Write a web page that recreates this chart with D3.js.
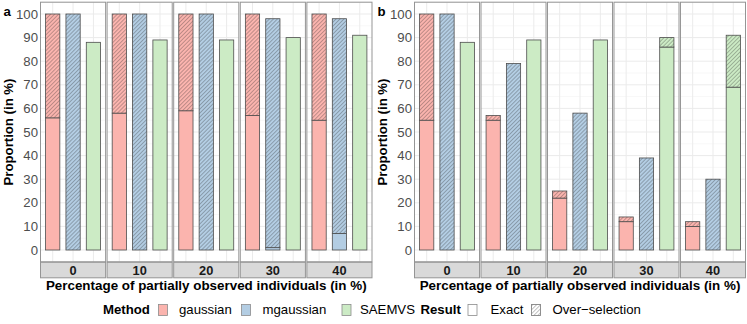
<!DOCTYPE html>
<html>
<head>
<meta charset="utf-8">
<script src="https://cdn.jsdelivr.net/npm/d3@7"></script>
<style>
  body { margin: 0; background: #fff; }
  svg { display: block; font-family: "Liberation Sans", Arial, Helvetica, sans-serif; }
</style>
</head>
<body>
<div id="viz"></div>
<script>
// facet levels (percentage of partially observed individuals)
const pcts = ["0", "10", "20", "30", "40"];
const methods = ["gaussian", "mgaussian", "SAEMVS"];
const yTicks = [0, 10, 20, 30, 40, 50, 60, 70, 80, 90, 100];

// panel a : exact / over-selection proportions
const aGaussExact = [56, 58, 59, 57, 55];
const aGaussOver  = [44, 42, 41, 43, 45];
const aMgaussExact = [0, 0, 0, 1, 7];
const aMgaussOver  = [100, 100, 100, 97, 91];
const aSaemExact = [88, 89, 89, 90, 91];
const aSaemOver  = [0, 0, 0, 0, 0];

// panel b
const bGaussExact = [55, 55, 22, 12, 10];
const bGaussOver  = [45, 2, 3, 2, 2];
const bMgaussExact = [0, 0, 0, 0, 0];
const bMgaussOver  = [100, 79, 58, 39, 30];
const bSaemExact = [88, 89, 89, 86, 69];
const bSaemOver  = [0, 0, 0, 4, 22];

const colors = {gaussian: "#FBB4AE", mgaussian: "#B3CDE3", SAEMVS: "#CCEBC5"};

const width = 747, height = 324;
const svg = d3.select("#viz").append("svg")
  .attr("width", width).attr("height", height);

// hatch pattern
const sp = 2.8;
const defs = svg.append("defs");
defs.append("pattern")
  .attr("id", "hatch")
  .attr("patternUnits", "userSpaceOnUse")
  .attr("width", sp).attr("height", sp)
  .attr("patternTransform", "rotate(45)")
  .append("line")
  .attr("x1", 0).attr("y1", 0).attr("x2", 0).attr("y2", sp)
  .style("stroke", "#222")
  .style("stroke-opacity", 0.8)
  .style("stroke-width", 0.7);

function buildRows(gE, gO, mE, mO, sE, sO) {
  const rows = [];
  pcts.forEach((p, i) => {
    rows.push({pct: p, method: "gaussian", exact: gE[i], over: gO[i]});
    rows.push({pct: p, method: "mgaussian", exact: mE[i], over: mO[i]});
    rows.push({pct: p, method: "SAEMVS", exact: sE[i], over: sO[i]});
  });
  return rows;
}

function drawPanel({x0, x1, tag, rows}) {
  const top = 2.2, bottom = 261.8;
  const y = d3.scaleLinear().domain([-5, 105]).range([bottom, top]);
  const facet = d3.scaleBand().domain(pcts).range([x0, x1]).paddingInner(0.022);
  const xm = d3.scaleBand().domain(methods).range([0, facet.bandwidth()])
    .paddingInner(0.3).paddingOuter(0.25);

  const g = svg.append("g");

  pcts.forEach(p => {
    const fx = facet(p), fw = facet.bandwidth();
    const fg = g.append("g").attr("transform", `translate(${fx},0)`);

    // grid
    d3.range(-5, 106, 10).forEach(v => {
      fg.append("line").attr("x1", 0).attr("x2", fw)
        .attr("y1", y(v)).attr("y2", y(v))
        .style("stroke", "#f2f2f2").style("stroke-width", 0.6);
    });
    yTicks.forEach(v => {
      fg.append("line").attr("x1", 0).attr("x2", fw)
        .attr("y1", y(v)).attr("y2", y(v))
        .style("stroke", "#ebebeb").style("stroke-width", 1);
    });
    methods.forEach(m => {
      const cx = xm(m) + xm.bandwidth() / 2;
      fg.append("line").attr("x1", cx).attr("x2", cx)
        .attr("y1", top).attr("y2", bottom)
        .style("stroke", "#ebebeb").style("stroke-width", 1);
    });

    // bars
    rows.filter(r => r.pct === p).forEach(r => {
      const bx = xm(r.method), bw = xm.bandwidth();
      if (r.exact > 0) {
        fg.append("rect")
          .attr("x", bx).attr("width", bw)
          .attr("y", y(r.exact)).attr("height", y(0) - y(r.exact))
          .style("fill", colors[r.method])
          .style("stroke", "#4d4d4d").style("stroke-width", 0.8);
      }
      if (r.over > 0) {
        const yt = y(r.exact + r.over), yb = y(r.exact);
        fg.append("rect")
          .attr("x", bx).attr("width", bw)
          .attr("y", yt).attr("height", yb - yt)
          .style("fill", colors[r.method]);
        fg.append("rect")
          .attr("x", bx).attr("width", bw)
          .attr("y", yt).attr("height", yb - yt)
          .style("fill", "url(#hatch)")
          .style("stroke", "#4d4d4d").style("stroke-width", 0.8);
      }
    });

    // panel border
    fg.append("rect").attr("x", 0).attr("y", top).attr("width", fw).attr("height", bottom - top)
      .style("fill", "none").style("stroke", "#959595").style("stroke-width", 1);

    // strip
    fg.append("rect").attr("x", 0).attr("y", bottom + 0.5).attr("width", fw).attr("height", 15.5)
      .style("fill", "#d9d9d9").style("stroke", "#959595").style("stroke-width", 1);
    fg.append("text").attr("x", fw / 2).attr("y", bottom + 13)
      .attr("text-anchor", "middle")
      .style("font-size", "12.8px").style("font-weight", "bold").style("fill", "#1a1a1a")
      .text(p);
  });

  // y axis labels
  yTicks.forEach(v => {
    g.append("text").attr("x", x0 - 2.5).attr("y", y(v) + 4.6)
      .attr("text-anchor", "end")
      .style("font-size", "13.2px").style("fill", "#4d4d4d")
      .text(v);
  });

  // axis titles
  g.append("text")
    .attr("transform", `translate(${x0 - 28},${(top + bottom) / 2}) rotate(-90)`)
    .attr("text-anchor", "middle")
    .style("font-size", "13.2px").style("font-weight", "bold")
    .text("Proportion (in %)");
  g.append("text").attr("x", (x0 + x1) / 2).attr("y", 290)
    .attr("text-anchor", "middle")
    .style("font-size", "13.4px").style("font-weight", "bold")
    .text("Percentage of partially observed individuals (in %)");

  // tag
  g.append("text").attr("x", x0 - 37).attr("y", 16)
    .style("font-size", "13.2px").style("font-weight", "bold")
    .text(tag);
}

drawPanel({x0: 40.5, x1: 372, tag: "a",
  rows: buildRows(aGaussExact, aGaussOver, aMgaussExact, aMgaussOver, aSaemExact, aSaemOver)});
drawPanel({x0: 414.5, x1: 745.5, tag: "b",
  rows: buildRows(bGaussExact, bGaussOver, bMgaussExact, bMgaussOver, bSaemExact, bSaemOver)});

// legend
const leg = svg.append("g").attr("transform", "translate(0,314)");
const legFont = "13.2px";
function legTitle(x, t) {
  leg.append("text").attr("x", x).attr("y", 0)
    .style("font-size", legFont).style("font-weight", "bold").text(t);
}
function legItem(x, tx, fill, hatch, t) {
  leg.append("rect").attr("x", x).attr("y", -9.5).attr("width", 9).attr("height", 11)
    .style("fill", fill).style("stroke", "#8c8c8c").style("stroke-width", 0.8);
  if (hatch) {
    leg.append("rect").attr("x", x).attr("y", -9.5).attr("width", 9).attr("height", 11)
      .style("fill", "url(#hatch)").style("stroke", "#8c8c8c").style("stroke-width", 0.8);
  }
  leg.append("text").attr("x", tx).attr("y", 0)
    .style("font-size", legFont).text(t);
}
legTitle(103, "Method");
legItem(158.5, 179, colors.gaussian, false, "gaussian");
legItem(241.5, 262.5, colors.mgaussian, false, "mgaussian");
legItem(342, 360, colors.SAEMVS, false, "SAEMVS");
legTitle(420.5, "Result");
legItem(468, 490.5, "#fff", false, "Exact");
legItem(531.5, 552.5, "#fff", true, "Over\u2212selection");
</script>
</body>
</html>
